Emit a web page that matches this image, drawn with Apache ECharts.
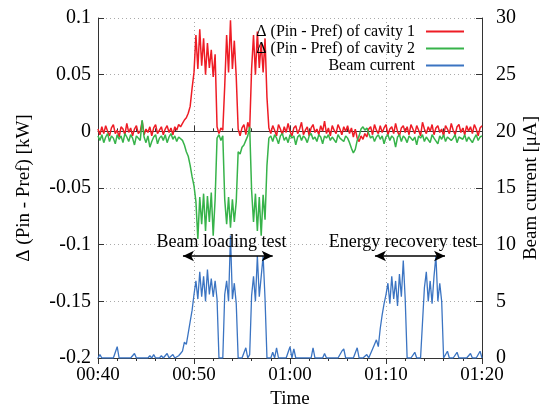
<!DOCTYPE html>
<html><head><meta charset="utf-8">
<script src="https://cdn.jsdelivr.net/npm/echarts@6/dist/echarts.min.js"></script>
<style>html,body{margin:0;padding:0;background:#fff}#c{width:542px;height:413px}</style>
</head><body><div id="c"></div>
<script>
// sampling grid (minutes after 00:00)
const START_MIN = 40;
const STEP_MIN = 0.2;

// Δ(Pin - Pref) of cavity 1 [kW]
const cavity1 = [
 0.002,-0.003,0.004,-0.002,0.005,0.000,-0.004,0.003,0.006,-0.002,
 0.001,-0.005,0.004,0.002,-0.003,0.007,-0.001,0.003,-0.004,0.002,
 0.005,-0.002,0.000,0.009,-0.003,0.002,-0.001,0.004,-0.004,0.003,
 0.006,-0.002,0.001,0.004,-0.003,0.002,0.005,-0.001,0.003,-0.003,
 0.004,0.001,0.006,0.004,0.007,0.010,0.012,0.016,0.022,0.038,
 0.052,0.085,0.055,0.090,0.058,0.082,0.050,0.078,0.056,0.072,
 0.048,0.068,0.004,-0.002,0.003,0.001,0.040,0.085,0.052,0.098,
 0.055,0.080,0.048,0.002,-0.004,0.003,0.006,-0.003,0.008,0.002,
 0.055,0.085,0.050,0.088,0.056,0.078,0.052,0.082,0.030,0.003,
 -0.002,0.005,0.001,-0.004,0.006,0.002,-0.003,0.004,-0.001,0.007,
 0.000,-0.004,0.003,0.005,-0.002,0.002,0.008,-0.003,0.001,0.004,
 -0.004,0.003,0.006,-0.001,0.002,-0.003,0.005,0.000,0.009,-0.002,
 0.003,-0.004,0.005,0.001,-0.002,0.006,0.002,-0.003,0.004,0.000,
 0.005,-0.002,0.003,-0.005,0.002,-0.006,-0.009,-0.004,-0.007,-0.002,
 -0.005,0.002,0.004,-0.003,0.006,0.001,-0.002,0.005,-0.001,0.003,
 0.006,-0.003,0.002,0.004,-0.002,0.007,0.000,-0.004,0.003,0.005,
 -0.001,0.004,-0.003,0.006,0.002,-0.002,0.005,0.001,-0.004,0.008,
 0.002,-0.002,0.004,0.000,0.006,-0.003,0.003,0.005,-0.001,0.002,
 -0.004,0.005,0.002,-0.002,0.007,0.001,-0.003,0.004,0.006,-0.001,
 0.003,-0.003,0.005,0.000,0.004,-0.002,0.006,0.002,-0.004,0.003,0.005
];

// Δ(Pin - Pref) of cavity 2 [kW]
const cavity2 = [
 -0.004,-0.008,-0.003,-0.010,-0.005,-0.002,-0.009,-0.004,-0.006,-0.011,
 -0.003,-0.007,-0.004,-0.010,-0.002,-0.005,-0.009,-0.003,-0.006,-0.012,
 -0.004,-0.003,-0.008,0.010,-0.005,-0.010,-0.004,-0.014,-0.009,-0.005,
 -0.003,-0.011,-0.006,-0.004,-0.008,-0.003,-0.010,-0.005,-0.002,-0.007,
 -0.004,-0.009,-0.005,-0.006,-0.008,-0.012,-0.018,-0.022,-0.030,-0.040,
 -0.048,-0.062,-0.095,-0.058,-0.082,-0.055,-0.088,-0.057,-0.080,-0.054,
 -0.092,-0.060,-0.006,-0.003,-0.008,-0.004,-0.060,-0.082,-0.058,-0.085,
 -0.060,-0.080,-0.062,-0.018,-0.020,-0.014,-0.012,-0.008,-0.004,0.004,
 -0.052,-0.080,-0.055,-0.088,-0.058,-0.092,-0.056,-0.078,-0.030,-0.006,
 -0.004,-0.009,-0.003,-0.006,-0.011,-0.004,-0.002,-0.008,-0.005,-0.010,
 -0.003,-0.006,-0.004,-0.012,-0.005,-0.003,-0.008,-0.004,-0.006,-0.010,
 -0.004,-0.002,-0.007,-0.005,-0.009,-0.003,-0.005,-0.011,-0.004,-0.006,
 -0.003,-0.008,-0.005,-0.004,-0.010,-0.003,-0.006,-0.005,-0.009,-0.004,
 -0.006,-0.010,-0.015,-0.019,-0.016,-0.008,-0.004,0.002,0.004,0.001,
 0.003,-0.002,-0.006,-0.004,-0.009,-0.005,-0.003,-0.007,-0.004,-0.011,
 -0.005,-0.003,-0.008,-0.004,-0.006,-0.014,-0.005,-0.003,-0.009,-0.004,
 -0.006,-0.010,-0.004,-0.003,-0.008,-0.005,-0.012,-0.004,-0.006,-0.003,
 -0.009,-0.005,-0.004,-0.010,-0.003,-0.006,-0.005,-0.011,-0.004,-0.007,
 -0.003,-0.009,-0.005,-0.004,-0.008,-0.006,-0.003,-0.010,-0.005,-0.004,
 -0.007,-0.003,-0.009,-0.005,-0.004,-0.010,-0.006,-0.003,-0.008,-0.005,-0.004
];

// Beam current [μA]
const beamCurrent = [
 0,0.3,0,0,0,0,0,0,0,0,
 1.0,0,0,0,0,0,0,0,0,0.4,
 0,0,0,0,0,0,0,0.2,0,0.3,
 0,0,0,0.2,0,0,0.4,0,0,0.3,
 0,0,0.2,0.4,0.6,1.4,1.2,2.2,3.2,4.2,
 5.6,6.8,5.2,7.6,5.4,7.2,5.0,7.8,5.6,7.0,
 5.4,6.8,5.2,0,0,0,5.6,6.8,5.0,10.8,
 5.2,6.6,4.8,0,0,0,0,0.9,0,0.3,
 5.5,7.2,5.0,9.0,5.4,7.2,9.0,5.2,0,0,
 0,0.5,0,0.9,0,0,0,0,0,0,
 1.0,0,0.8,0,0,0,0,0,0,0,
 0,0,0.9,0,0,0,0,0,0.4,0,
 0,0,0,0,0,0,0,0.6,0.8,0,
 0,0,0,0,0,0.9,0,0,0,0,
 0.3,0,0,0.8,1.2,1.6,1.0,2.6,3.8,4.8,
 5.6,6.6,4.8,7.2,5.2,6.8,4.6,7.4,5.4,8.6,
 5.2,0,0,0,0,0.5,0,0,0,0,
 6.2,7.6,5.0,6.8,4.8,7.2,9.0,5.0,6.6,5.0,
 0,0,0.6,0,0,0,0,0.5,0,0,
 0,0,0,0,0.4,0,0,0,0,0.6,0
];

const seriesNames = ['\u0394 (Pin - Pref) of cavity 1', '\u0394 (Pin - Pref) of cavity 2', 'Beam current'];
const seriesColors = ['#ee1c25', '#37b34a', '#3b74c2'];

// annotations: [label, start min, end min, arrow value, label center min, label value]
const annotations = [
 ['Beam loading test', 48.85, 58.2, -0.11, 52.86, -0.0975],
 ['Energy recovery test', 68.85, 76.15, -0.11, 71.77, -0.0975]
];

const FONT = 'Liberation Serif';
function toPairs(arr){ return arr.map((v,i)=>[START_MIN + STEP_MIN*i, v]); }
function fmtTime(v){ const h=Math.floor(v/60), m=Math.round(v%60); return String(h).padStart(2,'0')+':'+String(m).padStart(2,'0'); }

const chart = echarts.init(document.getElementById('c'), null, {renderer:'canvas'});
const axisColor = '#333';
const tickCommon = {show:true, inside:true, length:6, lineStyle:{color:axisColor}};
const LW = 1.5;
const option = {
 animation:false,
 backgroundColor:'#fff',
 grid:{left:98, right:60, top:18, bottom:55, containLabel:false, outerBoundsMode:'none'},
 legend:{
  data:seriesNames.map(n=>({name:n, icon:'rect'})), orient:'vertical', right:73, top:18.5, align:'right',
  itemWidth:38, itemHeight:2, itemGap:1,
  textStyle:{fontFamily:FONT, fontSize:16, color:'#000', padding:[0,6,0,0]}
 },
 xAxis:[
  {type:'value', min:40, max:80, interval:10, position:'bottom',
   axisLine:{show:true, lineStyle:{color:axisColor}},
   axisTick:tickCommon,
   minorTick:{show:true, splitNumber:5, length:3, lineStyle:{color:axisColor}},
   splitLine:{show:true, lineStyle:{color:'#aaa', type:[1,3]}},
   axisLabel:{formatter:fmtTime, fontFamily:FONT, fontSize:19, color:'#000', margin:8},
   name:'Time', nameLocation:'middle', nameGap:32, nameMoveOverlap:false,
   nameTextStyle:{fontFamily:FONT, fontSize:19, color:'#000'}},
  {type:'value', min:40, max:80, interval:10, position:'top',
   axisLine:{show:true, lineStyle:{color:axisColor}},
   axisTick:tickCommon,
   minorTick:{show:true, splitNumber:5, length:3, lineStyle:{color:axisColor}},
   splitLine:{show:false}, axisLabel:{show:false}}
 ],
 yAxis:[
  {type:'value', min:-0.2, max:0.1, interval:0.05, position:'left',
   axisLine:{show:true, lineStyle:{color:axisColor}},
   axisTick:tickCommon,
   splitLine:{show:true, lineStyle:{color:'#aaa', type:[1,3]}},
   axisLabel:{fontFamily:FONT, fontSize:20, color:'#000', margin:7},
   name:'\u0394 (Pin - Pref) [kW]', nameLocation:'middle', nameGap:64, nameMoveOverlap:false,
   nameTextStyle:{fontFamily:FONT, fontSize:19, color:'#000'}},
  {type:'value', min:0, max:30, interval:5, position:'right',
   axisLine:{show:true, lineStyle:{color:axisColor}},
   axisTick:tickCommon,
   splitLine:{show:false},
   axisLabel:{fontFamily:FONT, fontSize:20, color:'#000', margin:14},
   name:'Beam current [\u03bcA]', nameLocation:'middle', nameGap:40, nameMoveOverlap:false,
   nameTextStyle:{fontFamily:FONT, fontSize:19, color:'#000'}}
 ],
 series:[
  {name:seriesNames[0], type:'line', xAxisIndex:0, yAxisIndex:0, data:toPairs(cavity1),
   symbol:'none', lineStyle:{width:LW, color:seriesColors[0]}, itemStyle:{color:seriesColors[0]}, z:2,
   markLine:{silent:true, symbol:['arrow','arrow'], symbolSize:[8,11],
    lineStyle:{color:'#000', width:1.5, type:'solid'}, label:{show:false},
    data:annotations.map(a=>[{coord:[a[1],a[3]]},{coord:[a[2],a[3]]}])},
   markPoint:{silent:true, symbol:'circle', symbolSize:1, itemStyle:{color:'rgba(0,0,0,0)'},
    label:{show:true, position:'inside', fontFamily:FONT, fontSize:18, color:'#000'},
    data:annotations.map(a=>({coord:[a[4],a[5]], value:a[0], label:{formatter:a[0]}}))}
  },
  {name:seriesNames[1], type:'line', xAxisIndex:0, yAxisIndex:0, data:toPairs(cavity2),
   symbol:'none', lineStyle:{width:LW, color:seriesColors[1]}, itemStyle:{color:seriesColors[1]}, z:3},
  {name:seriesNames[2], type:'line', xAxisIndex:0, yAxisIndex:1, data:toPairs(beamCurrent),
   symbol:'none', lineStyle:{width:1.3, color:seriesColors[2]}, itemStyle:{color:seriesColors[2]}, z:4}
 ]
};
chart.setOption(option);
</script>
</body></html>
